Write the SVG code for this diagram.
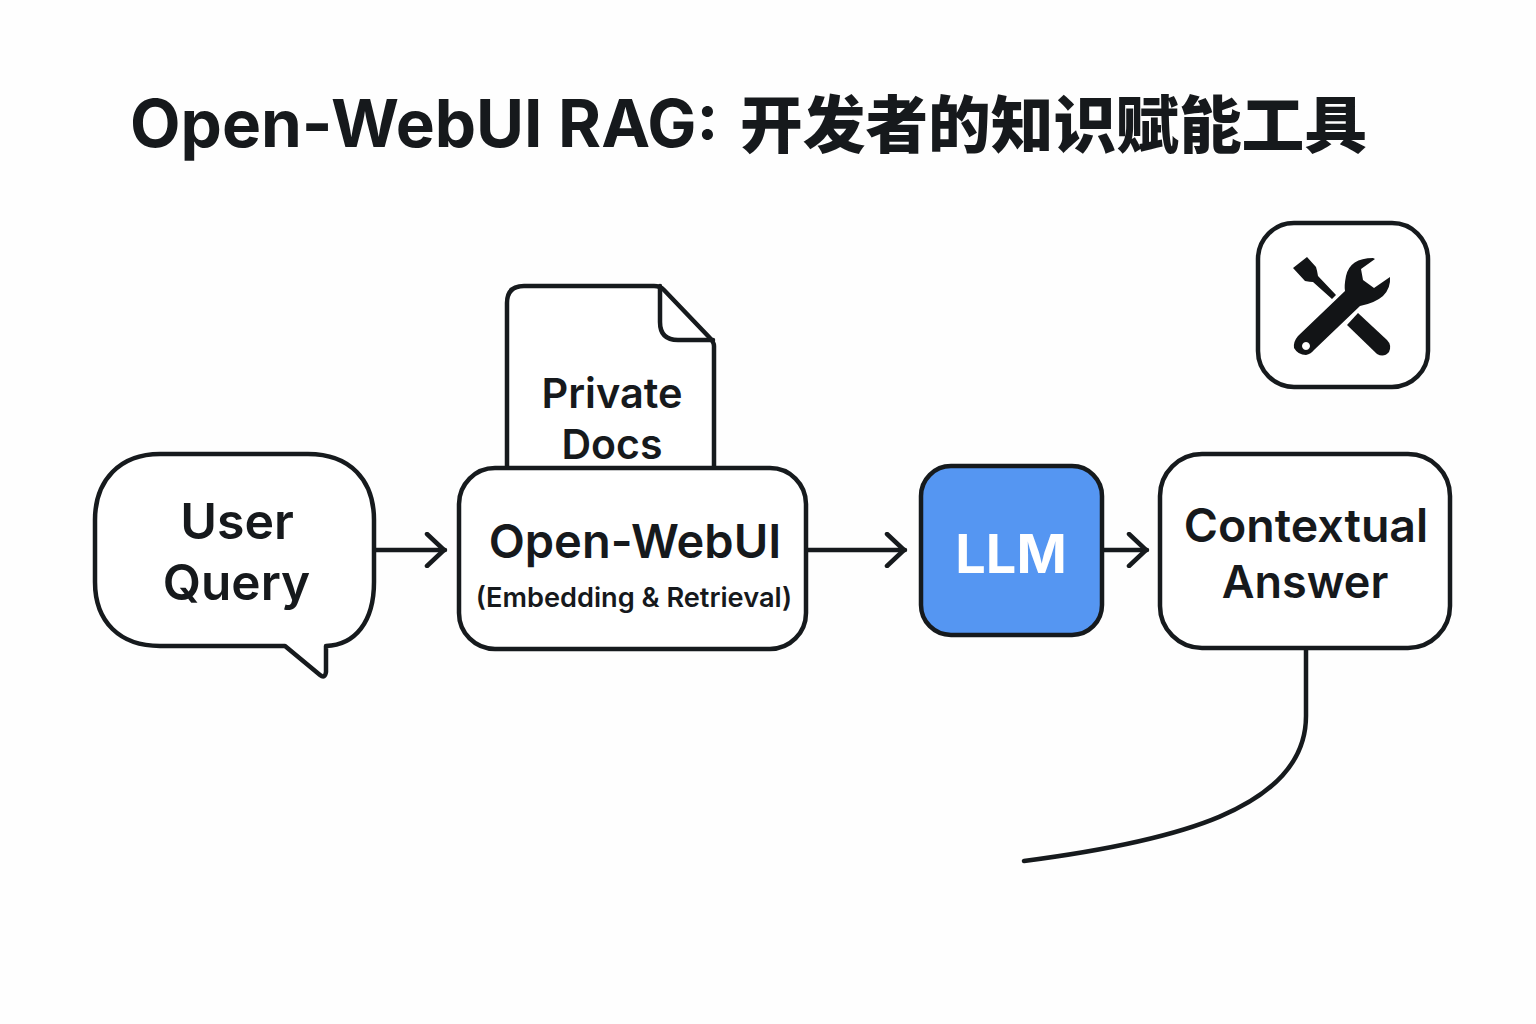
<svg xmlns="http://www.w3.org/2000/svg" width="1536" height="1024" viewBox="0 0 1536 1024">
<style>
.box{fill:#fff;stroke:#161a1d;stroke-width:4.5;stroke-linejoin:round}
.t{font-family:"Inter","Liberation Sans","Noto Sans CJK SC",sans-serif;fill:#16191c;text-anchor:middle;font-weight:600}
.c{fill:none;stroke:#161a1d;stroke-width:4.5;stroke-linecap:round;stroke-linejoin:round}
</style>
<defs><marker id="arr" viewBox="0 0 24 36" refX="21" refY="18" markerUnits="userSpaceOnUse" markerWidth="24" markerHeight="36" orient="auto"><path d="M3 2L20 18L3 34" fill="none" stroke="#161a1d" stroke-width="4.5" stroke-linecap="round" stroke-linejoin="round"/></marker></defs>
<rect width="1536" height="1024" fill="#fefefe"/>
<text id="title" y="147" style="font-size:66px;font-weight:700;fill:#16191c;font-family:'Inter','Noto Sans CJK SC',sans-serif" xml:space="preserve"><tspan x="130" textLength="604" lengthAdjust="spacingAndGlyphs">Open-WebUI RAG: </tspan><tspan x="740" y="148" font-size="62" textLength="627" lengthAdjust="spacingAndGlyphs" style="font-family:'Noto Sans CJK SC',sans-serif;font-weight:900">开发者的知识赋能工具</tspan></text>
<g id="connectors">
<path class="c" d="M376 550H445" marker-end="url(#arr)"/>
<path class="c" d="M808 550H905" marker-end="url(#arr)"/>
<path class="c" d="M1103 550H1147" marker-end="url(#arr)"/>
<path class="c" d="M1306 648V716C1306 810 1170 842 1024 861"/>
</g>
<g id="node-docs">
<path class="box" d="M507 468V303Q507 286 524 286H654Q660 286 664 290L709 337Q714 342 714 346V468"/>
<path class="c" d="M660 286V322Q660 340 678 340H713"/>
<text x="612" y="408" class="t" font-size="41.500">Private</text>
<text x="612" y="459" class="t" font-size="41">Docs</text>
</g>
<g id="node-query">
<path class="box" d="M160 454H308C350 454 374 480 374 520V582C374 622 355 645 326 646V672Q325 679 320 675L285 646H160C120 646 95 622 95 582V520C95 480 120 454 160 454Z"/>
<text x="237" y="539" class="t" font-size="50">User</text>
<text x="236.500" y="600" class="t" font-size="49.500">Query</text>
</g>
<g id="node-webui">
<rect class="box" x="459" y="468" width="347" height="181" rx="36"/>
<text x="635" y="558" class="t" font-size="47">Open-WebUI</text>
<text x="634" y="607" class="t" font-size="27.200">(Embedding &amp; Retrieval)</text>
</g>
<g id="node-llm">
<rect x="921" y="466" width="181" height="169" rx="30" fill="#5596f2" stroke="#161a1d" stroke-width="4.500"/>
<text x="1011" y="573" class="t" font-size="54" style="fill:#fff;font-weight:700">LLM</text>
</g>
<g id="node-answer">
<rect class="box" x="1160" y="454" width="290" height="194" rx="42"/>
<text x="1306" y="542" class="t" font-size="46.500">Contextual</text>
<text x="1305" y="598" class="t" font-size="45">Answer</text>
</g>
<g id="node-tools">
<rect class="box" x="1258" y="223" width="170" height="164" rx="36"/>
<path fill="#121416" d="M1307 257L1293 268L1305 281Q1310 282 1313 282L1332 299L1336 295L1318 276Q1317 270 1316 267Z"/>
<path fill="#121416" d="M1358 313L1347 325L1377 354Q1384 358 1389 352Q1392 345 1387 340Z"/>
<path fill="#121416" fill-rule="evenodd" d="M1373 258Q1350 258 1346 276Q1344 286 1345 291L1298 336Q1293 342 1294 348Q1298 355 1306 355Q1311 354 1314 350L1360 306Q1375 303 1383 296Q1391 288 1390 277L1374 288L1363 280L1361 269L1375 259ZM1306 342A4 4 0 1 0 1306.010 342Z"/>
</g>
</svg>
